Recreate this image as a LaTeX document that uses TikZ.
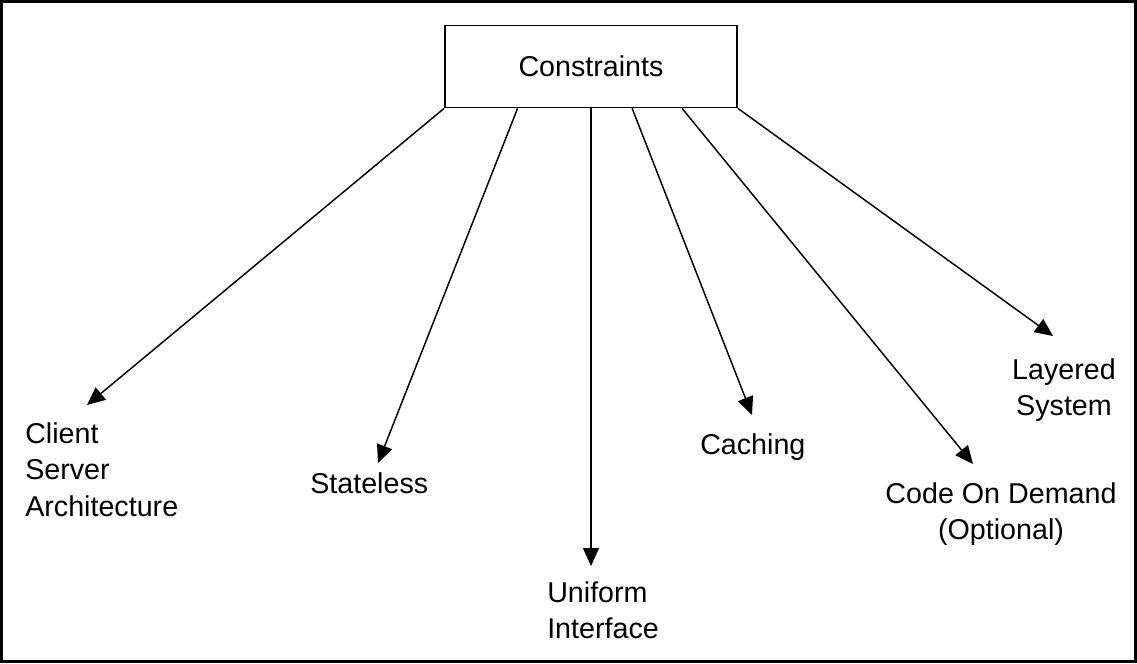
\documentclass[tikz,border=0pt]{standalone}
\usepackage{fontspec}
\setmainfont{Liberation Sans}
\usepackage{tikz}
\usetikzlibrary{arrows.meta,calc}
\tikzstyle{restriccion} = [draw, line width=1.3pt, rectangle, minimum width=219pt, minimum height=61.5pt, inner sep=0pt]
\tikzstyle{etiqueta} = [inner sep=0pt, font=\fontsize{21.5}{27.4}\selectfont]
\tikzstyle{flecha} = [line width=1.1pt, -{Triangle[length=13.5pt,width=12pt]}]

\begin{document}
\begin{tikzpicture}[x=0.75pt,y=-0.75pt]
	\useasboundingbox (0,0) rectangle (1137,663);
	\draw[line width=1.6pt] (1.5,1.5) rectangle (1135.5,661.5);
	\node[restriccion, etiqueta](box) at (591,66.5) {Constraints};
	\node[etiqueta, anchor=north west, align=left](client) at (25,422) {Client\\Server\\Architecture};
	\node[etiqueta, anchor=west](stateless) at (310,483) {Stateless};
	\node[etiqueta, anchor=north west, align=left](uniform) at (547,581) {Uniform\\Interface};
	\node[etiqueta, anchor=north west](caching) at (700,433) {Caching};
	\node[etiqueta, anchor=north, align=center](code) at (1001,482) {Code On Demand\\(Optional)};
	\node[etiqueta, anchor=north, align=center](layered) at (1064,358) {Layered\\System};
	\coordinate (t1) at (87,405);
	\coordinate (t2) at (378,463);
	\coordinate (t3) at (591,566);
	\coordinate (t4) at (752,415);
	\coordinate (t5) at (973,464);
	\coordinate (t6) at (1053,336);
	\draw[flecha] (box.south west) -- (t1);
	\draw[flecha] ($(box.south west)!0.25!(box.south east)$) -- (t2);
	\draw[flecha] (box.south) -- (t3);
	\draw[flecha] ($(box.south west)!0.64!(box.south east)$) -- (t4);
	\draw[flecha] ($(box.south west)!0.81!(box.south east)$) -- (t5);
	\draw[flecha] (box.south east) -- (t6);
\end{tikzpicture}
\end{document}
